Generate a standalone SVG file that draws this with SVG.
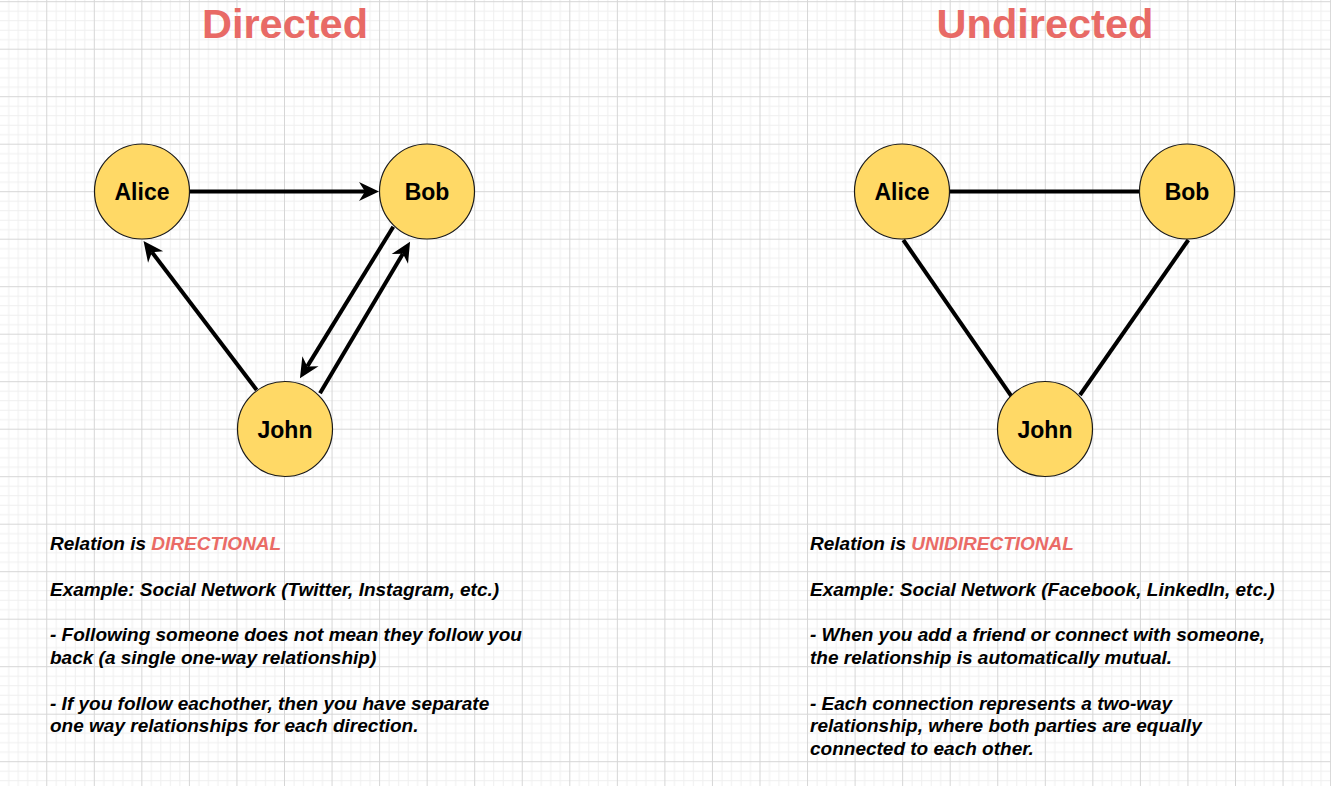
<svg xmlns="http://www.w3.org/2000/svg" width="1331" height="786" viewBox="0 0 1331 786">
  <defs>
    <pattern id="grid" patternUnits="userSpaceOnUse" x="-1.3" y="1.2" width="47.55" height="47.5">
      <g fill="#efefef">
        <rect x="9.51" y="0" width="1" height="47.5"/>
        <rect x="19.02" y="0" width="1" height="47.5"/>
        <rect x="28.53" y="0" width="1" height="47.5"/>
        <rect x="38.04" y="0" width="1" height="47.5"/>
        <rect x="0" y="9.5" width="47.55" height="1"/>
        <rect x="0" y="19" width="47.55" height="1"/>
        <rect x="0" y="28.5" width="47.55" height="1"/>
        <rect x="0" y="38" width="47.55" height="1"/>
      </g>
      <g fill="#d6d6d6">
        <rect x="0" y="0" width="1" height="47.5"/>
        <rect x="0" y="0" width="47.55" height="1"/>
      </g>
    </pattern>
    <marker id="arrow" markerUnits="userSpaceOnUse" markerWidth="24" markerHeight="24" viewBox="-8 -12 24 24" refX="0" refY="0" orient="auto" overflow="visible">
      <path d="M14,0 L-6,-9.5 L0,0 L-6,9.5 Z" fill="#000"/>
    </marker>
    <style>
      .title { font-family: "Liberation Sans", Arial, sans-serif; font-weight: bold; font-size: 41.5px; fill: #E86A66; text-anchor: middle; }
      .node circle { fill: #FFD966; stroke: #1a1a1a; stroke-width: 1.2; }
      .node text { font-family: "Liberation Sans", Arial, sans-serif; font-weight: bold; font-size: 23px; fill: #000; text-anchor: middle; }
      .edge { stroke: #000; stroke-width: 4; fill: none; }
      .arrow { marker-end: url(#arrow); }
      .body { font-family: "Liberation Sans", Arial, sans-serif; font-weight: bold; font-style: italic; font-size: 19px; fill: #000; }
      .hl { fill: #EA6B66; }
    </style>
  </defs>

  <rect x="0" y="0" width="1331" height="786" fill="#ffffff"/>
  <rect x="0" y="0" width="1331" height="786" fill="url(#grid)"/>

  <text id="title-directed" class="title" x="285" y="38">Directed</text>
  <text id="title-undirected" class="title" x="1045" y="38">Undirected</text>

  <g id="connectors">
    <line class="edge arrow" x1="190" y1="191.5" x2="365" y2="191.5"/>
    <line class="edge arrow" x1="256.7" y1="390" x2="152" y2="252.2"/>
    <line class="edge arrow" x1="393.3" y1="226.7" x2="307.3" y2="366.4"/>
    <line class="edge arrow" x1="320" y1="393.3" x2="402.9" y2="253.7"/>
    <line class="edge" x1="950" y1="191.5" x2="1139.5" y2="191.5"/>
    <line class="edge" x1="903.3" y1="240" x2="1011.7" y2="396.7"/>
    <line class="edge" x1="1188.3" y1="240" x2="1080" y2="395"/>
  </g>

  <g id="d-alice" class="node"><circle cx="142" cy="191.5" r="47.5"/><text x="142" y="200">Alice</text></g>
  <g id="d-bob" class="node"><circle cx="427" cy="191.5" r="47.5"/><text x="427" y="200">Bob</text></g>
  <g id="d-john" class="node"><circle cx="285" cy="429" r="47.5"/><text x="285" y="437.5">John</text></g>

  <g id="u-alice" class="node"><circle cx="902" cy="191.5" r="47.5"/><text x="902" y="200">Alice</text></g>
  <g id="u-bob" class="node"><circle cx="1187" cy="191.5" r="47.5"/><text x="1187" y="200">Bob</text></g>
  <g id="u-john" class="node"><circle cx="1045" cy="429" r="47.5"/><text x="1045" y="437.5">John</text></g>

  <g id="text-directed" class="body">
    <text x="50" y="550">Relation is <tspan class="hl">DIRECTIONAL</tspan></text>
    <text x="50" y="595.6">Example: Social Network (Twitter, Instagram, etc.)</text>
    <text x="50" y="641.2">- Following someone does not mean they follow you</text>
    <text x="50" y="664">back (a single one-way relationship)</text>
    <text x="50" y="709.6">- If you follow eachother, then you have separate</text>
    <text x="50" y="732.4">one way relationships for each direction.</text>
  </g>

  <g id="text-undirected" class="body">
    <text x="810" y="550">Relation is <tspan class="hl">UNIDIRECTIONAL</tspan></text>
    <text x="810" y="595.6">Example: Social Network (Facebook, LinkedIn, etc.)</text>
    <text x="810" y="641.2">- When you add a friend or connect with someone,</text>
    <text x="810" y="664">the relationship is automatically mutual.</text>
    <text x="810" y="709.6">- Each connection represents a two-way</text>
    <text x="810" y="732.4">relationship, where both parties are equally</text>
    <text x="810" y="755.2">connected to each other.</text>
  </g>
</svg>
